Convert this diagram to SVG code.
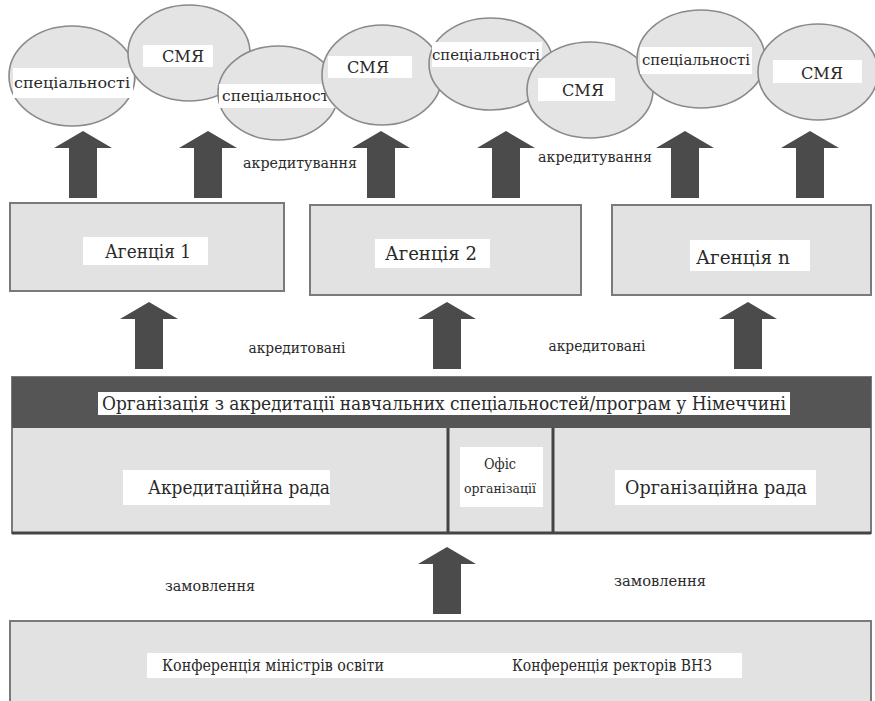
<svg xmlns="http://www.w3.org/2000/svg" xmlns:xlink="http://www.w3.org/1999/xlink" width="875" height="701" viewBox="0 0 875 701">
<style>
.ell{fill:#e4e4e4;stroke:#8a8a8a;stroke-width:1.6}
.box{fill:#e2e2e2;stroke:#7a7a7a;stroke-width:2}
.lab{fill:#ffffff}
.t{font-family:"DejaVu Serif Condensed","DejaVu Serif","Liberation Serif",serif;font-stretch:condensed;fill:#2a2a2a;text-anchor:middle}
.s{font-size:14px}
.m{font-size:17px}
.l{font-size:19px}
.arr{fill:#4b4b4b}
</style>
<defs>
<path id="arrow" d="M0,0 L29,17 L14,17 L14,67 L-14,67 L-14,17 L-29,17 Z"/>
</defs>
<rect width="875" height="701" fill="#ffffff"/>

<g id="ellipses">
<g id="e1"><ellipse class="ell" cx="72" cy="76" rx="63" ry="50"/><rect class="lab" x="13" y="68" width="120" height="30"/><text class="t s" x="72" y="88" textLength="116" lengthAdjust="spacingAndGlyphs">спеціальності</text></g>
<g id="e2"><ellipse class="ell" cx="189" cy="53" rx="61" ry="48"/><rect class="lab" x="143" y="45" width="70" height="22"/><text class="t m" x="183" y="62" textLength="42" lengthAdjust="spacingAndGlyphs">СМЯ</text></g>
<g id="e3"><ellipse class="ell" cx="278" cy="93" rx="60" ry="47"/><rect class="lab" x="219" y="84" width="117" height="24"/><text class="t s" x="278" y="101" textLength="112" lengthAdjust="spacingAndGlyphs">спеціальності</text></g>
<g id="e4"><ellipse class="ell" cx="382" cy="75" rx="60" ry="50"/><rect class="lab" x="328" y="56" width="84" height="22"/><text class="t m" x="368" y="73" textLength="42" lengthAdjust="spacingAndGlyphs">СМЯ</text></g>
<g id="e5"><ellipse class="ell" cx="491" cy="64" rx="62" ry="46"/><rect class="lab" x="432" y="42" width="110" height="25"/><text class="t s" x="486" y="60" textLength="108" lengthAdjust="spacingAndGlyphs">спеціальності</text></g>
<g id="e6"><ellipse class="ell" cx="590" cy="90" rx="63" ry="48"/><rect class="lab" x="538" y="78" width="77" height="23"/><text class="t m" x="583" y="96" textLength="42" lengthAdjust="spacingAndGlyphs">СМЯ</text></g>
<g id="e7"><ellipse class="ell" cx="701" cy="59" rx="64" ry="49"/><rect class="lab" x="640" y="47" width="112" height="27"/><text class="t s" x="696" y="65" textLength="108" lengthAdjust="spacingAndGlyphs">спеціальності</text></g>
<g id="e8"><ellipse class="ell" cx="818" cy="72" rx="60" ry="48"/><rect class="lab" x="773" y="60" width="89" height="23"/><text class="t m" x="822" y="79" textLength="42" lengthAdjust="spacingAndGlyphs">СМЯ</text></g>
</g>

<g id="connectors" class="arr">
<use xlink:href="#arrow" x="83" y="131"/>
<use xlink:href="#arrow" x="208" y="131"/>
<use xlink:href="#arrow" x="381" y="131"/>
<use xlink:href="#arrow" x="506" y="131"/>
<use xlink:href="#arrow" x="685" y="131"/>
<use xlink:href="#arrow" x="810" y="131"/>
<use xlink:href="#arrow" x="149" y="302"/>
<use xlink:href="#arrow" x="447" y="302"/>
<use xlink:href="#arrow" x="748" y="302"/>
<use xlink:href="#arrow" x="447" y="547"/>
</g>

<g id="labels">
<text class="t s" x="300" y="168" textLength="114" lengthAdjust="spacingAndGlyphs">акредитування</text>
<text class="t s" x="595" y="162" textLength="114" lengthAdjust="spacingAndGlyphs">акредитування</text>
<text class="t s" x="297" y="353" textLength="97" lengthAdjust="spacingAndGlyphs">акредитовані</text>
<text class="t s" x="597" y="351" textLength="97" lengthAdjust="spacingAndGlyphs">акредитовані</text>
<text class="t s" x="210" y="591" textLength="90" lengthAdjust="spacingAndGlyphs">замовлення</text>
<text class="t s" x="660" y="586" textLength="92" lengthAdjust="spacingAndGlyphs">замовлення</text>
</g>

<g id="agency1"><rect class="box" x="10" y="203" width="274" height="88"/><rect class="lab" x="83" y="237" width="125" height="28"/><text class="t l" x="148" y="258" textLength="86" lengthAdjust="spacingAndGlyphs">Агенція 1</text></g>
<g id="agency2"><rect class="box" x="310" y="205" width="271" height="90"/><rect class="lab" x="375" y="239" width="115" height="29"/><text class="t l" x="431" y="260" textLength="92" lengthAdjust="spacingAndGlyphs">Агенція 2</text></g>
<g id="agencyn"><rect class="box" x="612" y="205" width="259" height="90"/><rect class="lab" x="690" y="240" width="120" height="31"/><text class="t l" x="743" y="264" textLength="94" lengthAdjust="spacingAndGlyphs">Агенція n</text></g>

<g id="organization">
<rect class="box" x="12" y="377" width="859" height="156" stroke="#444"/>
<rect x="12" y="377" width="859" height="51" fill="#555555"/>
<rect class="lab" x="98" y="392" width="692" height="23"/>
<text class="t l" x="444" y="410" textLength="684" lengthAdjust="spacingAndGlyphs">Організація з акредитації навчальних спеціальностей/програм у Німеччині</text>
<line x1="448" y1="428" x2="448" y2="533" stroke="#444" stroke-width="3"/>
<line x1="553" y1="428" x2="553" y2="533" stroke="#444" stroke-width="3"/>
<line x1="12" y1="533" x2="871" y2="533" stroke="#444" stroke-width="3"/>
</g>
<g id="accreditation-council"><rect class="lab" x="123" y="470" width="207" height="35"/><text class="t l" x="239" y="494" textLength="182" lengthAdjust="spacingAndGlyphs">Акредитаційна рада</text></g>
<g id="office"><rect class="lab" x="460" y="447" width="83" height="60"/><text class="t" x="500" y="469" font-size="14" textLength="32" lengthAdjust="spacingAndGlyphs">Офіс</text><text class="t" x="500" y="493" font-size="13" textLength="72" lengthAdjust="spacingAndGlyphs">організації</text></g>
<g id="org-council"><rect class="lab" x="615" y="470" width="201" height="35"/><text class="t l" x="716" y="494" textLength="182" lengthAdjust="spacingAndGlyphs">Організаційна рада</text></g>

<g id="conferences">
<rect class="box" x="10" y="621" width="861" height="90"/>
<rect class="lab" x="147" y="653" width="595" height="25"/>
<text class="t" x="273" y="671" font-size="16" textLength="222" lengthAdjust="spacingAndGlyphs">Конференція міністрів освіти</text>
<text class="t" x="612" y="671" font-size="16" textLength="200" lengthAdjust="spacingAndGlyphs">Конференція ректорів ВНЗ</text>
</g>
</svg>
